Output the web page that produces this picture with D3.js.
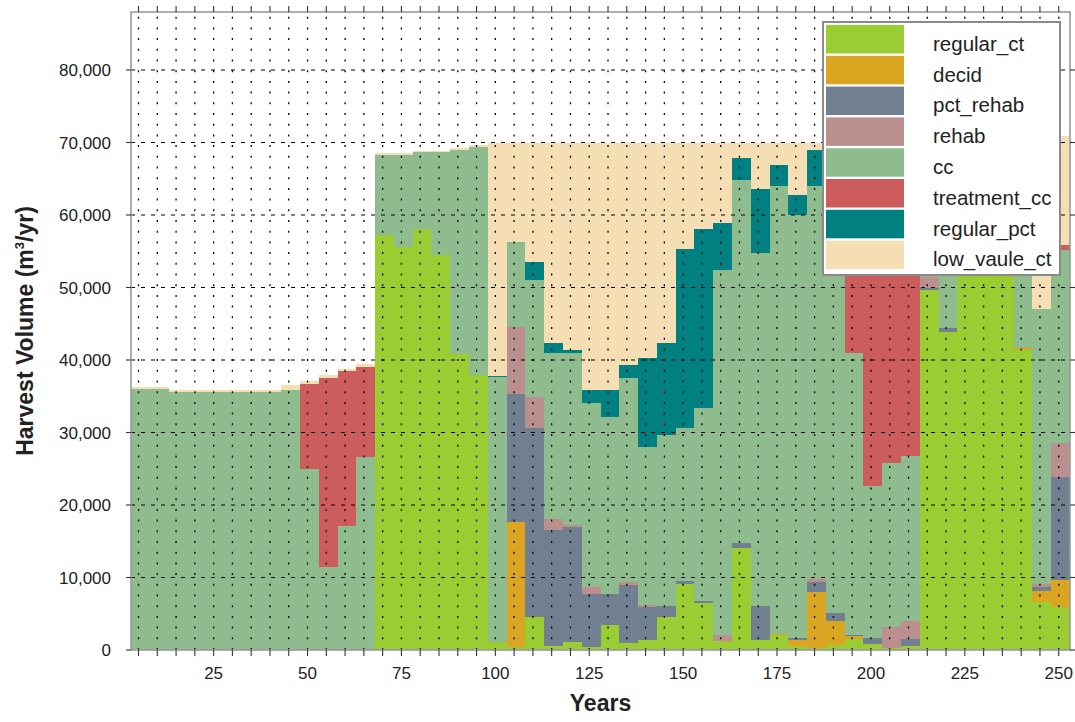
<!DOCTYPE html>
<html>
<head>
<meta charset="utf-8">
<script src="https://cdn.jsdelivr.net/npm/d3@7"></script>
<style>
  body { margin: 0; background: #fff; }
  svg { display: block; }
  text { font-family: "Liberation Sans", Arial, Helvetica, sans-serif; fill: #222; }
</style>
</head>
<body>
<svg id="chart" width="1075" height="722"></svg>
<script>
// Harvest volume per 5-year period, by harvest type (m3/yr)
const years = [5, 10, 15, 20, 25, 30, 35, 40, 45, 50,
  55, 60, 65, 70, 75, 80, 85, 90, 95, 100,
  105, 110, 115, 120, 125, 130, 135, 140, 145, 150,
  155, 160, 165, 170, 175, 180, 185, 190, 195, 200,
  205, 210, 215, 220, 225, 230, 235, 240, 245, 250];

const regular_ct = [0, 0, 0, 0, 0, 0, 0, 0, 0, 0,
  0, 0, 0, 57240, 55540, 58030, 54480, 40780, 37900, 1150,
  460, 4600, 600, 1060, 370, 3450, 920, 1380, 4600, 9060,
  6440, 1300, 14020, 1380, 2070, 550, 230, 690, 1470, 830,
  230, 550, 49660, 43900, 51600, 51600, 51600, 41400, 6670, 5890];

const decid = [0, 0, 0, 0, 0, 0, 0, 0, 0, 0,
  0, 0, 0, 0, 0, 0, 0, 0, 0, 0,
  17240, 0, 0, 0, 0, 0, 0, 0, 0, 0,
  0, 0, 0, 0, 130, 830, 7820, 3360, 460, 0,
  0, 0, 0, 0, 0, 0, 0, 200, 1510, 3770];

const pct_rehab = [0, 0, 0, 0, 0, 0, 0, 0, 0, 0,
  0, 0, 0, 0, 0, 0, 0, 0, 0, 0,
  17600, 25980, 15950, 15940, 7350, 4270, 8050, 4510, 1470, 460,
  320, 0, 780, 4730, 0, 230, 1280, 1010, 140, 780,
  0, 920, 250, 470, 0, 0, 0, 100, 550, 14250];

const rehab = [0, 0, 0, 0, 0, 0, 0, 0, 0, 0,
  0, 0, 0, 0, 0, 0, 0, 0, 0, 0,
  9280, 4360, 1480, 240, 1010, 0, 360, 270, 0, 0,
  0, 770, 0, 0, 0, 0, 420, 0, 0, 0,
  2990, 2580, 1540, 0, 0, 0, 0, 0, 370, 4690];

const cc = [36000, 36000, 35540, 35540, 35540, 35540, 35540, 35540, 35860, 25000,
  11500, 17100, 26600, 11060, 12760, 10620, 14170, 28220, 31500, 36450,
  11640, 16090, 22890, 23680, 25290, 24460, 28140, 21880, 23590, 21060,
  26580, 50330, 50030, 48690, 61800, 58390, 54250, 56940, 38850, 21010,
  22530, 22750, 10550, 17630, 10400, 10400, 10400, 20300, 38000, 26570];

const treatment_cc = [0, 0, 0, 0, 0, 0, 0, 0, 0, 11690,
  25970, 21380, 12400, 0, 0, 0, 0, 0, 0, 0,
  0, 0, 0, 0, 0, 0, 0, 0, 0, 0,
  0, 0, 0, 0, 0, 0, 0, 0, 17080, 35380,
  32250, 31200, 0, 0, 0, 0, 0, 0, 0, 690];

const regular_pct = [0, 0, 0, 0, 0, 0, 0, 0, 0, 0,
  0, 0, 0, 0, 0, 0, 0, 0, 0, 200,
  0, 2530, 1380, 460, 1840, 3680, 1840, 12190, 12640, 24680,
  24730, 6450, 2990, 8740, 2900, 2760, 4970, 3500, 0, 0,
  0, 0, 0, 0, 0, 0, 0, 0, 0, 0];

const low_vaule_ct = [320, 320, 320, 320, 320, 320, 320, 320, 650, 460,
  460, 230, 400, 250, 250, 200, 200, 200, 200, 32200,
  13770, 16440, 27700, 28620, 34140, 34140, 30690, 29770, 27700, 14740,
  11930, 11150, 2180, 6460, 3100, 7240, 1030, 4500, 12000, 12000,
  12000, 12000, 8000, 8000, 8000, 8000, 8000, 8000, 22900, 15040];

const seriesNames = ["regular_ct", "decid", "pct_rehab", "rehab", "cc",
  "treatment_cc", "regular_pct", "low_vaule_ct"];
const seriesValues = [regular_ct, decid, pct_rehab, rehab, cc,
  treatment_cc, regular_pct, low_vaule_ct];
const seriesColors = ["#9acd32", "#daa520", "#708090", "#bc8f8f", "#8fbc8f",
  "#cd5c5c", "#008080", "#f5deb3"];

const xTickLabels = [25, 50, 75, 100, 125, 150, 175, 200, 225, 250];
const yTickLabels = [0, 10000, 20000, 30000, 40000, 50000, 60000, 70000, 80000];

// ---- layout ----
const svg = d3.select("#chart");
const plot = { left: 131, right: 1070, top: 12, bottom: 650 };
const x = d3.scaleLinear().domain([3, 253]).range([plot.left, plot.right]);
const y = d3.scaleLinear().domain([0, 88000]).range([plot.bottom, plot.top]);

// each value covers its 5-year period, starting 2 years before the period label
const periodLead = 2, periodLen = 5;

const rows = years.map((yr, i) => {
  const r = { year: yr };
  seriesNames.forEach((k, j) => { r[k] = seriesValues[j][i]; });
  return r;
});
const stacked = d3.stack().keys(seriesNames)(rows);

svg.append("defs").append("clipPath").attr("id", "plotClip")
  .append("rect")
  .attr("x", plot.left).attr("y", plot.top)
  .attr("width", plot.right - plot.left).attr("height", plot.bottom - plot.top);

const area = d3.area()
  .curve(d3.curveStepAfter)
  .x(d => x(d.x))
  .y0(d => y(d.y0))
  .y1(d => y(d.y1));

const layers = svg.append("g").attr("clip-path", "url(#plotClip)");
stacked.forEach((s, j) => {
  const pts = s.map(d => ({ x: d.data.year - periodLead, y0: d[0], y1: d[1] }));
  const last = s[s.length - 1];
  pts.push({ x: last.data.year - periodLead + periodLen, y0: last[0], y1: last[1] });
  layers.append("path")
    .attr("d", area(pts))
    .attr("fill", seriesColors[j])
    .attr("shape-rendering", "crispEdges");
});

// ---- grid (drawn over the areas) ----
const minorX = years;
const grid = svg.append("g");
grid.selectAll("line.vx").data(minorX).join("line")
  .attr("x1", d => x(d)).attr("x2", d => x(d))
  .attr("y1", plot.bottom).attr("y2", plot.top)
  .attr("stroke", "#000").attr("stroke-width", 1.3)
  .attr("stroke-dasharray", "2,8.7");
grid.selectAll("line.hy").data(yTickLabels.filter(v => v > 0)).join("line")
  .attr("x1", plot.left).attr("x2", plot.right)
  .attr("y1", d => y(d)).attr("y2", d => y(d))
  .attr("stroke", "#000").attr("stroke-width", 1.1)
  .attr("stroke-dasharray", "4,6");

// ---- spines and ticks ----
const axes = svg.append("g");
axes.append("rect")
  .attr("x", plot.left).attr("y", plot.top)
  .attr("width", plot.right - plot.left).attr("height", plot.bottom - plot.top)
  .attr("fill", "none").attr("stroke", "#9a9a9a").attr("stroke-width", 1.6);

const tickLen = 6;
axes.selectAll("line.xb").data(minorX).join("line")
  .attr("x1", d => x(d)).attr("x2", d => x(d))
  .attr("y1", plot.bottom).attr("y2", plot.bottom + tickLen)
  .attr("stroke", "#333").attr("stroke-width", 1.1);
axes.selectAll("line.xt").data(minorX).join("line")
  .attr("x1", d => x(d)).attr("x2", d => x(d))
  .attr("y1", plot.top).attr("y2", plot.top - tickLen)
  .attr("stroke", "#333").attr("stroke-width", 1.1);
axes.selectAll("line.yl").data(yTickLabels).join("line")
  .attr("x1", plot.left - 5).attr("x2", plot.left)
  .attr("y1", d => y(d)).attr("y2", d => y(d))
  .attr("stroke", "#333").attr("stroke-width", 1.1);
axes.selectAll("line.yr").data(yTickLabels).join("line")
  .attr("x1", plot.right).attr("x2", plot.right + 5)
  .attr("y1", d => y(d)).attr("y2", d => y(d))
  .attr("stroke", "#333").attr("stroke-width", 1.1);

const fmt = d3.format(",");
axes.selectAll("text.yt").data(yTickLabels).join("text")
  .attr("x", 111).attr("y", d => y(d) + 6)
  .attr("text-anchor", "end").attr("font-size", 17)
  .text(d => fmt(d));
axes.selectAll("text.xt").data(xTickLabels).join("text")
  .attr("x", d => x(d)).attr("y", 679)
  .attr("text-anchor", "middle").attr("font-size", 17)
  .text(d => d);

// ---- axis titles ----
svg.append("text")
  .attr("x", (plot.left + plot.right) / 2).attr("y", 711)
  .attr("text-anchor", "middle").attr("font-size", 23).attr("font-weight", "bold")
  .text("Years");

const yTitle = svg.append("text")
  .attr("transform", `translate(33,${(plot.top + plot.bottom) / 2}) rotate(-90)`)
  .attr("text-anchor", "middle").attr("font-size", 23).attr("font-weight", "bold");
yTitle.append("tspan").text("Harvest Volume (m");
yTitle.append("tspan").attr("font-size", 13).attr("dy", -9).text("3");
yTitle.append("tspan").attr("dy", 9).text("/yr)");

// ---- legend ----
const lg = svg.append("g");
lg.append("rect")
  .attr("x", 823).attr("y", 22).attr("width", 237).attr("height", 253)
  .attr("fill", "#fff").attr("stroke", "#8a8a8a").attr("stroke-width", 2);
const rowStep = 30.8;
seriesNames.forEach((name, i) => {
  const top = 25 + i * rowStep;
  lg.append("rect")
    .attr("x", 826).attr("y", top).attr("width", 78).attr("height", 28.5)
    .attr("fill", seriesColors[i]);
  lg.append("text")
    .attr("x", 933).attr("y", top + 14.25 + 11.5)
    .attr("font-size", 20.5)
    .text(name);
});
</script>
</body>
</html>
